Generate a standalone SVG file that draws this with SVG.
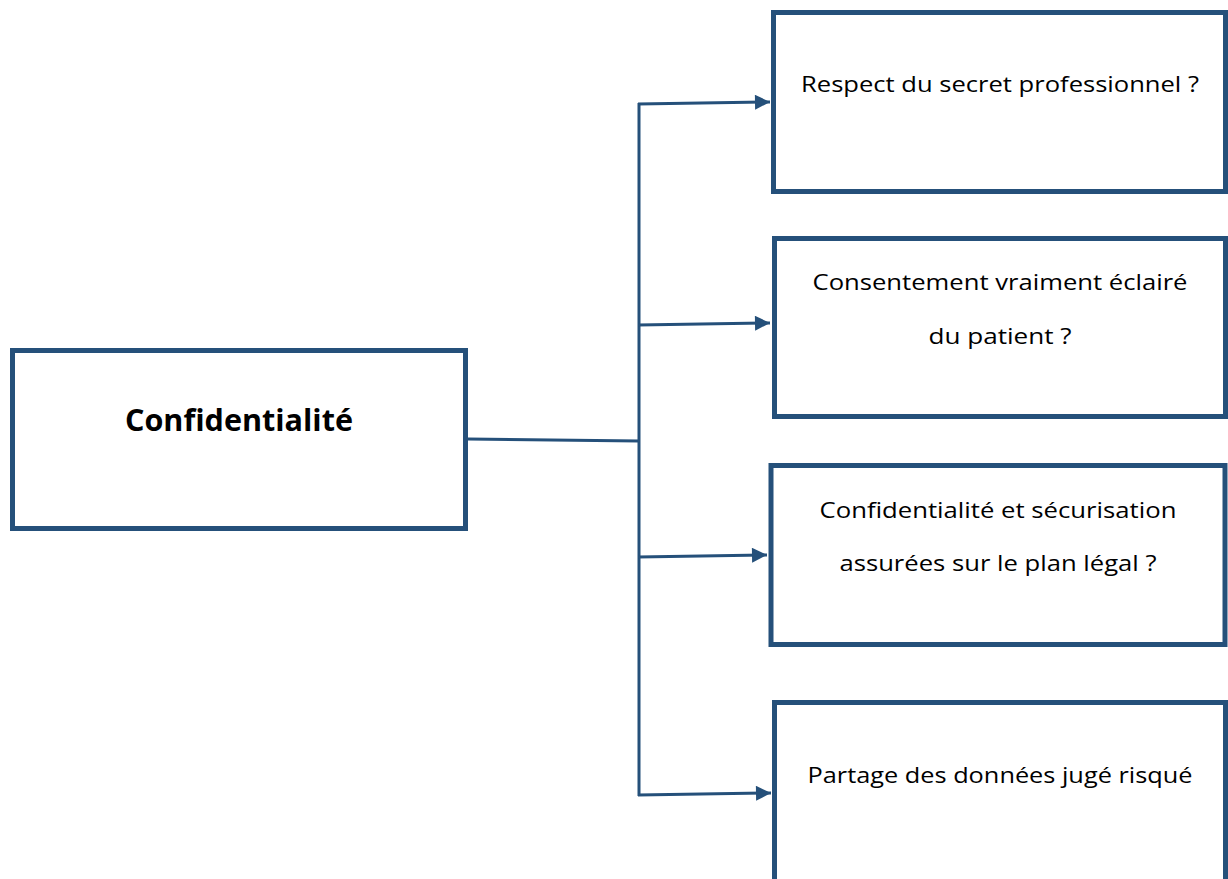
<svg xmlns="http://www.w3.org/2000/svg" width="1228" height="879" viewBox="0 0 1228 879">
<style>
.box{fill:#fff;stroke:#25507A;stroke-width:5}
.con{fill:none;stroke:#25507A;stroke-width:3}
.t{font-family:"Open Sans","Liberation Sans",sans-serif;font-size:22.5px;fill:#000;text-anchor:middle}
.tb{font-family:"Open Sans","Liberation Sans",sans-serif;font-size:31px;font-weight:bold;fill:#000;text-anchor:middle}
</style>
<defs>
<marker id="arr" viewBox="0 0 10 10" refX="10" refY="5" markerWidth="6" markerHeight="5" markerUnits="strokeWidth" orient="auto">
<path d="M0,0 L10,5 L0,10 z" fill="#25507A"/>
</marker>
</defs>
<rect width="1228" height="879" fill="#fff"/>
<g id="n-main">
<rect class="box" x="12.5" y="350.5" width="453" height="178"/>
<text class="tb" x="239" y="431" textLength="228" lengthAdjust="spacingAndGlyphs">Confidentialité</text>
</g>
<g id="n1">
<rect class="box" x="773.5" y="12.5" width="452" height="179"/>
<text class="t" x="1000" y="92" textLength="398" lengthAdjust="spacingAndGlyphs">Respect du secret professionnel ?</text>
</g>
<g id="n2">
<rect class="box" x="774.5" y="238.5" width="451" height="178"/>
<text class="t" x="1000" y="290" textLength="375" lengthAdjust="spacingAndGlyphs">Consentement vraiment éclairé</text>
<text class="t" x="1000" y="344" textLength="143" lengthAdjust="spacingAndGlyphs">du patient ?</text>
</g>
<g id="n3">
<rect class="box" x="771" y="465.5" width="454" height="179"/>
<text class="t" x="998" y="518" textLength="357" lengthAdjust="spacingAndGlyphs">Confidentialité et sécurisation</text>
<text class="t" x="998" y="571" textLength="317" lengthAdjust="spacingAndGlyphs">assurées sur le plan légal ?</text>
</g>
<g id="n4">
<rect class="box" x="774.5" y="702.5" width="451" height="200"/>
<text class="t" x="1000" y="783" textLength="385" lengthAdjust="spacingAndGlyphs">Partage des données jugé risqué</text>
</g>
<g id="connectors">
<path class="con" d="M468,439 L639,441"/>
<path class="con" d="M639,103 L639,796"/>
<path class="con" d="M638,104 L770,102" marker-end="url(#arr)"/>
<path class="con" d="M638,325 L770,323" marker-end="url(#arr)"/>
<path class="con" d="M638,557 L767,555" marker-end="url(#arr)"/>
<path class="con" d="M638,795 L771,793" marker-end="url(#arr)"/>
</g>
</svg>
